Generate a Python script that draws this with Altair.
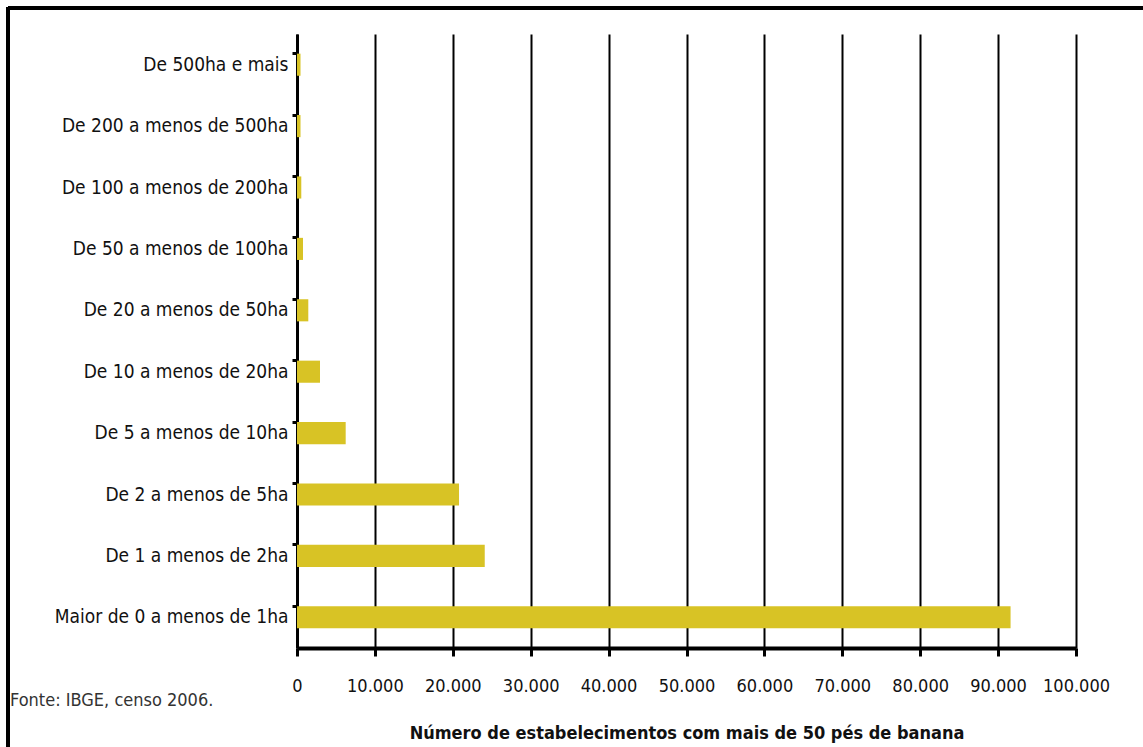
import altair as alt
import pandas as pd

categories = [
    "De 500ha e mais",
    "De 200 a menos de 500ha",
    "De 100 a menos de 200ha",
    "De 50 a menos de 100ha",
    "De 20 a menos de 50ha",
    "De 10 a menos de 20ha",
    "De 5 a menos de 10ha",
    "De 2 a menos de 5ha",
    "De 1 a menos de 2ha",
    "Maior de 0 a menos de 1ha",
]
values = [450, 450, 550, 770, 1450, 2950, 6250, 20800, 24100, 91600]
x_ticks = [0, 10000, 20000, 30000, 40000, 50000, 60000, 70000, 80000, 90000, 100000]

FONT = "DejaVu Sans Condensed, Liberation Sans Narrow, sans-serif"

df = pd.DataFrame({"faixa": categories, "n": values})

bars = alt.Chart(df).mark_bar(color="#d8c325").encode(
    x=alt.X(
        "n:Q",
        scale=alt.Scale(domain=[0, 100000], nice=False),
        axis=alt.Axis(
            values=x_ticks,
            grid=True,
            gridColor="#000000",
            gridWidth=2,
            gridOpacity=1,
            domainColor="#000000",
            domainWidth=4,
            tickColor="#000000",
            tickWidth=3,
            tickSize=8,
            labelPadding=21,
            labelFont=FONT,
            labelFontSize=18,
            labelColor="#111111",
            labelFlush=False,
            labelExpr="replace(format(datum.value, ','), ',', '.')",
            title="Número de estabelecimentos com mais de 50 pés de banana",
            titleFont=FONT,
            titleFontSize=18,
            titleFontWeight="bold",
            titleColor="#111111",
            titlePadding=29,
        ),
    ),
    y=alt.Y(
        "faixa:N",
        sort=categories,
        scale=alt.Scale(paddingInner=0.64, paddingOuter=0.32),
        axis=alt.Axis(
            title=None,
            grid=False,
            domainColor="#000000",
            domainWidth=3,
            tickColor="#000000",
            tickWidth=3,
            tickSize=5,
            bandPosition=0,
            labelPadding=4,
            labelFont=FONT,
            labelFontSize=19,
            labelColor="#111111",
            labelLimit=300,
        ),
    ),
)

border_top = alt.Chart(df).mark_rule(color="#000000", strokeWidth=3).encode(
    x=alt.value(-289), x2=alt.value(846), y=alt.value(-26)
)
border_left = alt.Chart(df).mark_rule(color="#000000", strokeWidth=3).encode(
    x=alt.value(-289), y=alt.value(-27), y2=alt.value(713)
)
source = alt.Chart(pd.DataFrame({"t": ["Fonte: IBGE, censo 2006."]})).mark_text(
    align="left", baseline="middle", font=FONT, fontSize=18, color="#333333"
).encode(x=alt.value(-287), y=alt.value(667), text="t:N")

chart = (
    alt.layer(bars, border_top, border_left, source)
    .properties(
        width=779,
        height=614,
        autosize=alt.AutoSizeParams(type="none"),
        padding={"left": 297, "top": 34, "right": 67, "bottom": 99},
        background="#ffffff",
    )
    .configure_view(stroke=None)
)

chart.save("out.html", embed_options={"renderer": "svg", "actions": False})
